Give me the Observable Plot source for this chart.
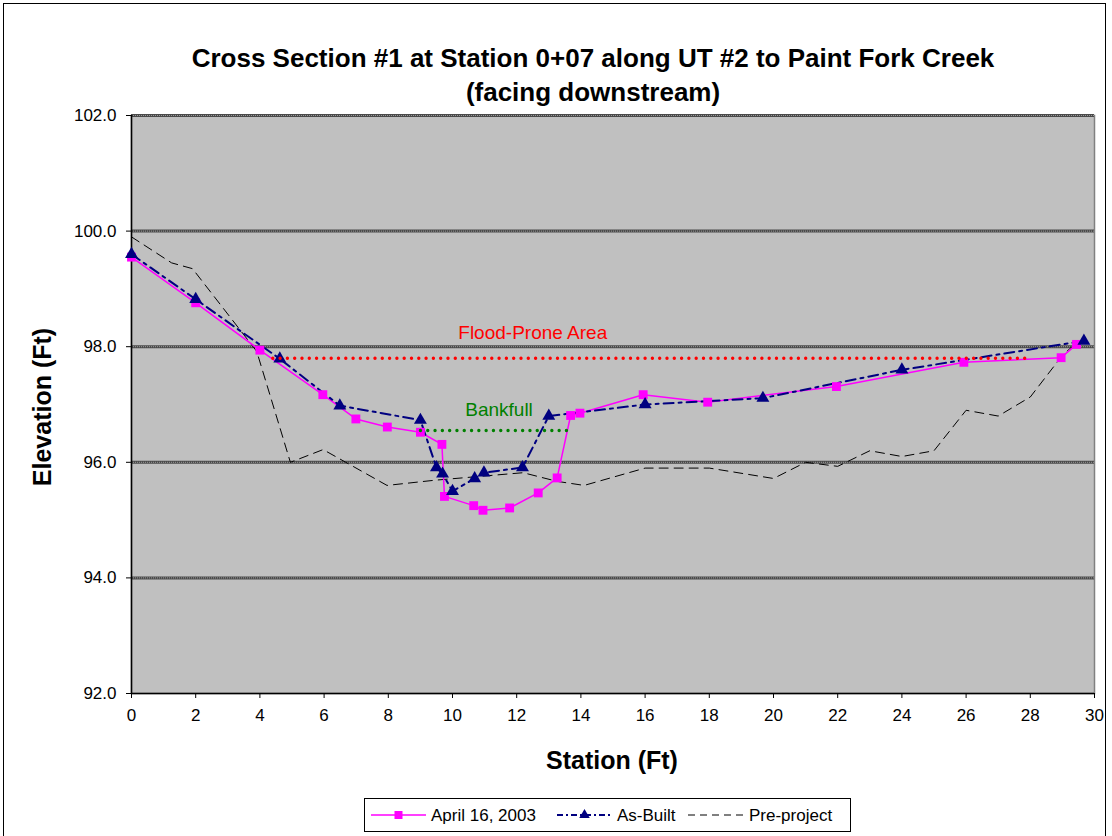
<!DOCTYPE html>
<html><head><meta charset="utf-8">
<script src="https://cdn.jsdelivr.net/npm/d3@7"></script>
<script src="https://cdn.jsdelivr.net/npm/@observablehq/plot@0.6"></script>
<style>
body{margin:0;background:#fff;font-family:"Liberation Sans",Arial,sans-serif;}
#wrap{position:relative;width:1112px;height:836px;overflow:hidden;background:#fff;}
#border{position:absolute;left:3px;top:3px;width:1103px;height:840px;border:1px solid #000;box-sizing:border-box;}
#chart{position:absolute;left:0;top:0;}
.title{position:absolute;left:93px;width:1000px;text-align:center;font-weight:bold;font-size:26px;color:#000;line-height:30px;}
#xlab{position:absolute;left:412px;width:400px;top:746px;text-align:center;font-weight:bold;font-size:25px;}
#ylab{position:absolute;left:42px;top:407px;transform:translate(-50%,-50%) rotate(-90deg);white-space:nowrap;font-weight:bold;font-size:25px;}
#legend{position:absolute;left:364px;top:798px;width:487px;height:34px;border:1px solid #000;box-sizing:border-box;background:#fff;font-size:17px;}
#legend svg{position:absolute;top:0;}
#legend span{position:absolute;top:7px;}
</style></head>
<body><div id="wrap">
<div id="border"></div>
<div id="chart"></div>
<div class="title" style="top:43px">Cross Section #1 at Station 0+07 along UT #2 to Paint Fork Creek</div>
<div class="title" style="top:77px">(facing downstream)</div>
<div id="xlab">Station (Ft)</div>
<div id="ylab">Elevation (Ft)</div>
<div id="legend"></div>
</div>
<script>
// ---- data ----
const aprilStation = [0, 2, 4.0, 5.96, 6.99, 7.97, 9.0, 9.67, 9.75, 10.66, 10.95, 11.78, 12.67, 13.26, 13.68, 13.97, 15.94, 17.95, 21.96, 25.93, 28.96, 29.44];
const aprilElev    = [99.55, 98.76, 97.94, 97.17, 96.75, 96.61, 96.52, 96.31, 95.41, 95.25, 95.17, 95.21, 95.47, 95.73, 96.81, 96.85, 97.17, 97.04, 97.31, 97.73, 97.81, 98.04];
const asBuiltStation = [0, 2, 4.62, 6.49, 9.0, 9.5, 9.69, 10.0, 10.69, 10.98, 12.18, 13.0, 16.0, 19.67, 24.0, 29.67];
const asBuiltElev    = [99.6, 98.82, 97.79, 96.98, 96.73, 95.91, 95.80, 95.5, 95.72, 95.82, 95.91, 96.8, 97.0, 97.11, 97.6, 98.1];
const preStation = [0, 1.25, 1.9, 3.9, 4.95, 5.97, 7.96, 9.45, 12.2, 13.26, 14.1, 16.0, 18.0, 20.0, 21.0, 22.0, 23.0, 24.0, 25.0, 26.0, 27.0, 28.0, 29.0, 29.5];
const preElev    = [99.9, 99.45, 99.35, 97.92, 96.0, 96.22, 95.6, 95.69, 95.82, 95.67, 95.6, 95.9, 95.9, 95.72, 96.0, 95.93, 96.2, 96.1, 96.2, 96.9, 96.8, 97.13, 97.85, 98.1];
const floodStation = [4.4, 27.9];
const floodElev = [97.8, 97.8];
const bankfullStation = [9.0, 13.6];
const bankfullElev = [96.55, 96.55];
const annotText = ["Flood-Prone Area", "Bankfull"];
const annotStation = [12.5, 11.45];
const annotElev = [98.24, 96.9];
const annotColor = ["#FF0000", "#008000"];
const xTicks = [0, 2, 4, 6, 8, 10, 12, 14, 16, 18, 20, 22, 24, 26, 28, 30];
const yTicks = [92, 94, 96, 98, 100, 102];
const gridTicks = [94, 96, 98, 100, 102];
const seriesNames = ["April 16, 2003", "As-Built", "Pre-project"];

const zip = (xs, ys) => xs.map((x, i) => ({x, y: ys[i]}));
const april = zip(aprilStation, aprilElev);
const asBuilt = zip(asBuiltStation, asBuiltElev);
const pre = zip(preStation, preElev);
const flood = zip(floodStation, floodElev);
const bankfull = zip(bankfullStation, bankfullElev);
const annots = annotText.map((t, i) => ({t, x: annotStation[i], y: annotElev[i], c: annotColor[i]}));

const chart = Plot.plot({
  width: 1112, height: 836,
  marginLeft: 131, marginRight: 18, marginTop: 115, marginBottom: 143,
  style: {fontFamily: '"Liberation Sans", Arial, sans-serif', fontSize: "17px", color: "#000", background: "transparent"},
  x: {domain: [0, 30]},
  y: {domain: [92, 102]},
  marks: [
    Plot.frame({fill: "#C0C0C0", stroke: "#808080", strokeWidth: 1.5}),
    Plot.ruleY(gridTicks, {stroke: "#4a4a4a", strokeWidth: 3}),
    Plot.ruleY(gridTicks, {stroke: "#9a9a9a", strokeWidth: 1, strokeDasharray: "1,1"}),
    Plot.ruleX([0], {stroke: "#000", strokeWidth: 1.5}),
    Plot.ruleY([92], {stroke: "#000", strokeWidth: 1.5}),
    Plot.axisX({ticks: xTicks, tickFormat: d => String(d), tickSize: 5, tickPadding: 10, label: null, fontSize: 17}),
    Plot.axisY({ticks: yTicks, tickFormat: d => d.toFixed(1), tickSize: 5, tickPadding: 10, label: null, fontSize: 17}),
    Plot.line(pre, {x: "x", y: "y", stroke: "#000", strokeWidth: 1, strokeDasharray: "9,6"}),
    Plot.line(april, {x: "x", y: "y", stroke: "#FF00FF", strokeWidth: 1.5}),
    Plot.line(asBuilt, {x: "x", y: "y", stroke: "#000080", strokeWidth: 2, strokeDasharray: "10,5,3,5"}),
    Plot.dot(april, {x: "x", y: "y", symbol: "square", r: 5, fill: "#FF00FF", stroke: "none"}),
    Plot.dot(asBuilt, {x: "x", y: "y", symbol: "triangle", r: 4.8, fill: "#000080", stroke: "none"}),
    Plot.line(flood, {x: "x", y: "y", stroke: "#FF0000", strokeWidth: 3.3, strokeLinecap: "round", strokeDasharray: "0.1,7.2"}),
    Plot.line(bankfull, {x: "x", y: "y", stroke: "#008000", strokeWidth: 3.3, strokeLinecap: "round", strokeDasharray: "0.1,7.2"}),
    Plot.text(annots, {x: "x", y: "y", text: "t", fill: "c", fontSize: 19})
  ]
});
document.getElementById("chart").appendChild(chart);

// ---- legend ----
const lg = document.getElementById("legend");
const samples = [
  {x: 6, w: 55, stroke: "#FF00FF", dash: null, sw: 1.5, sym: "square", tx: 66},
  {x: 192, w: 55, stroke: "#000080", dash: "6,3,2,3", sw: 2, sym: "triangle", tx: 252},
  {x: 323, w: 55, stroke: "#000", dash: "7,5", sw: 1, sym: null, tx: 384}
];
samples.forEach((s, i) => {
  const svg = d3.create("svg").attr("width", s.w).attr("height", 32).style("left", s.x + "px");
  svg.append("line").attr("x1", 0).attr("x2", s.w).attr("y1", 16).attr("y2", 16)
    .attr("stroke", s.stroke).attr("stroke-width", s.sw).attr("stroke-dasharray", s.dash);
  if (s.sym === "square") svg.append("rect").attr("x", s.w/2 - 4).attr("y", 12).attr("width", 8).attr("height", 8).attr("fill", s.stroke);
  if (s.sym === "triangle") svg.append("path").attr("d", d3.symbol(d3.symbolTriangle, 48)()).attr("transform", `translate(${s.w/2},16)`).attr("fill", s.stroke);
  lg.appendChild(svg.node());
  const sp = document.createElement("span");
  sp.textContent = seriesNames[i];
  sp.style.left = s.tx + "px";
  lg.appendChild(sp);
});
</script>
</body></html>
